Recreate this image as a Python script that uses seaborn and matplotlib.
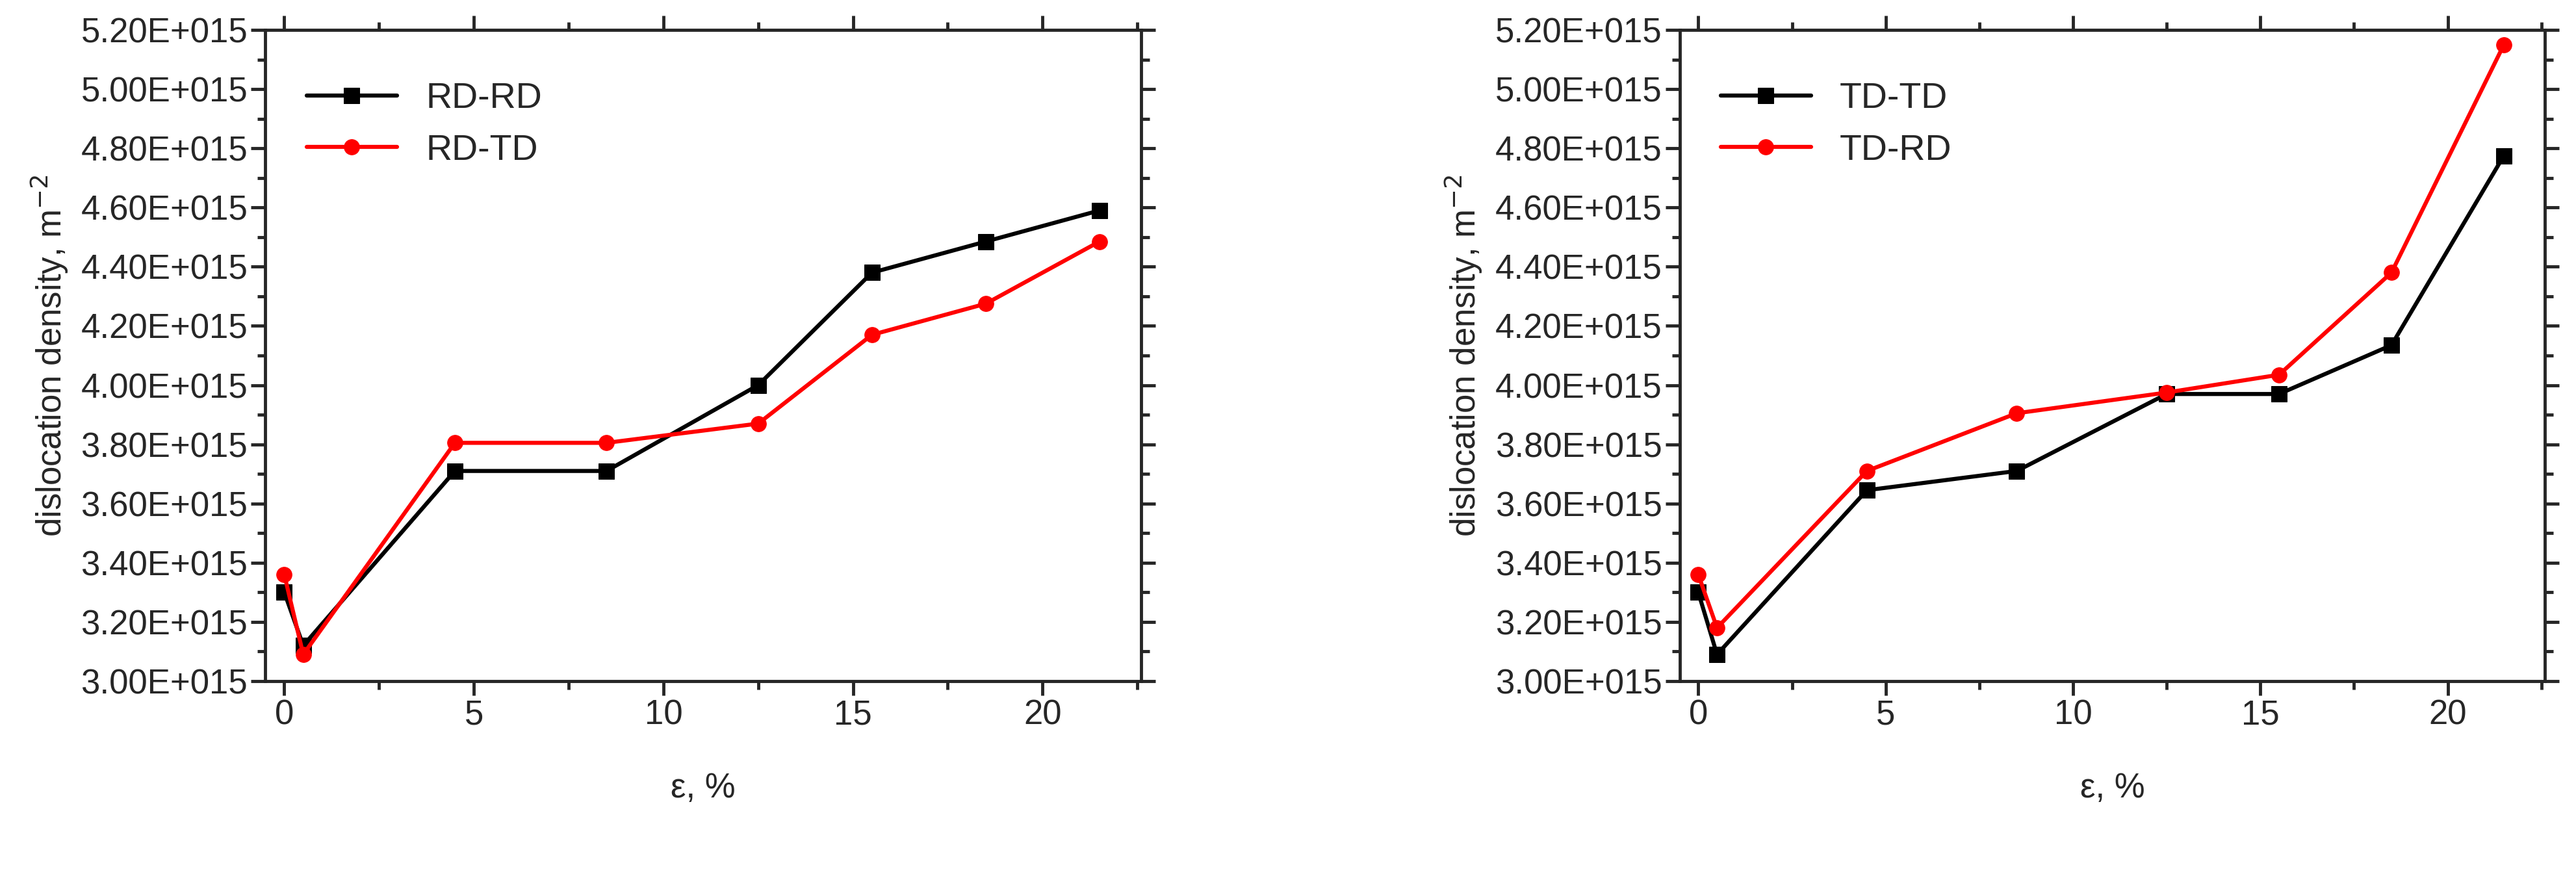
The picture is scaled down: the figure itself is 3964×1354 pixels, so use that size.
import matplotlib
matplotlib.use("Agg")
import matplotlib.pyplot as plt
import seaborn as sns
import pandas as pd
from matplotlib.ticker import MultipleLocator, FuncFormatter

strain = [0, 0.5, 4.5, 8.5, 12.5, 15.5, 18.5, 21.5]
rd_rd = [3.30, 3.12, 3.71, 3.71, 4.00, 4.38, 4.485, 4.59]
rd_td = [3.36, 3.09, 3.805, 3.805, 3.87, 4.17, 4.275, 4.485]
td_td = [3.30, 3.09, 3.645, 3.71, 3.97, 3.97, 4.135, 4.775]
td_rd = [3.36, 3.18, 3.71, 3.905, 3.975, 4.035, 4.38, 5.15]

sns.set_theme(style="ticks")
plt.rcParams['font.family'] = ['Liberation Sans', 'DejaVu Sans']

fig = plt.figure(figsize=(39.64, 13.54), dpi=100)
axes = [fig.add_axes([0.103, 0.226, 0.340, 0.740]),
        fig.add_axes([0.652, 0.226, 0.336, 0.740])]
panels = [(("RD-RD", rd_rd), ("RD-TD", rd_td), "(a)"),
          (("TD-TD", td_td), ("TD-RD", td_rd), "(b)")]

for ax, (s1, s2, lab) in zip(axes, panels):
    for (name, vals), col, mk in ((s1, "black", "s"), (s2, "red", "o")):
        df = pd.DataFrame({"x": strain, "y": [v * 1e15 for v in vals]})
        sns.lineplot(data=df, x="x", y="y", ax=ax, color=col, marker=mk,
                     markersize=17, markeredgecolor=col, linewidth=4.5, label=name)
    ax.set_xlim(-0.5, 22.6)
    ax.set_ylim(3.0e15, 5.2e15)
    ax.xaxis.set_major_locator(MultipleLocator(5))
    ax.xaxis.set_minor_locator(MultipleLocator(2.5))
    ax.yaxis.set_major_locator(MultipleLocator(0.2e15))
    ax.yaxis.set_minor_locator(MultipleLocator(0.1e15))
    ax.yaxis.set_major_formatter(FuncFormatter(lambda v, p: f"{v/1e15:.2f}E+015"))
    ax.tick_params(which="both", direction="out", top=True, right=True, width=3.5, labelsize=38)
    ax.tick_params(which="major", length=16)
    ax.tick_params(which="minor", length=9)
    for sp in ax.spines.values():
        sp.set_linewidth(3.5)
        sp.set_visible(True)
    ax.set_xlabel("ε, %", fontsize=38, labelpad=45)
    ax.set_ylabel("dislocation density, m$^{-2}$", fontsize=38, labelpad=12)
    ax.legend(loc="upper left", frameon=False, fontsize=40, handlelength=2.5,
              bbox_to_anchor=(0.01, 0.97))
    ax.text(0.5, -0.36, lab, transform=ax.transAxes, ha="center", va="center",
            fontsize=50, fontweight="bold", family=["Liberation Serif", "DejaVu Serif"])

fig.savefig("out.png", dpi=100)
